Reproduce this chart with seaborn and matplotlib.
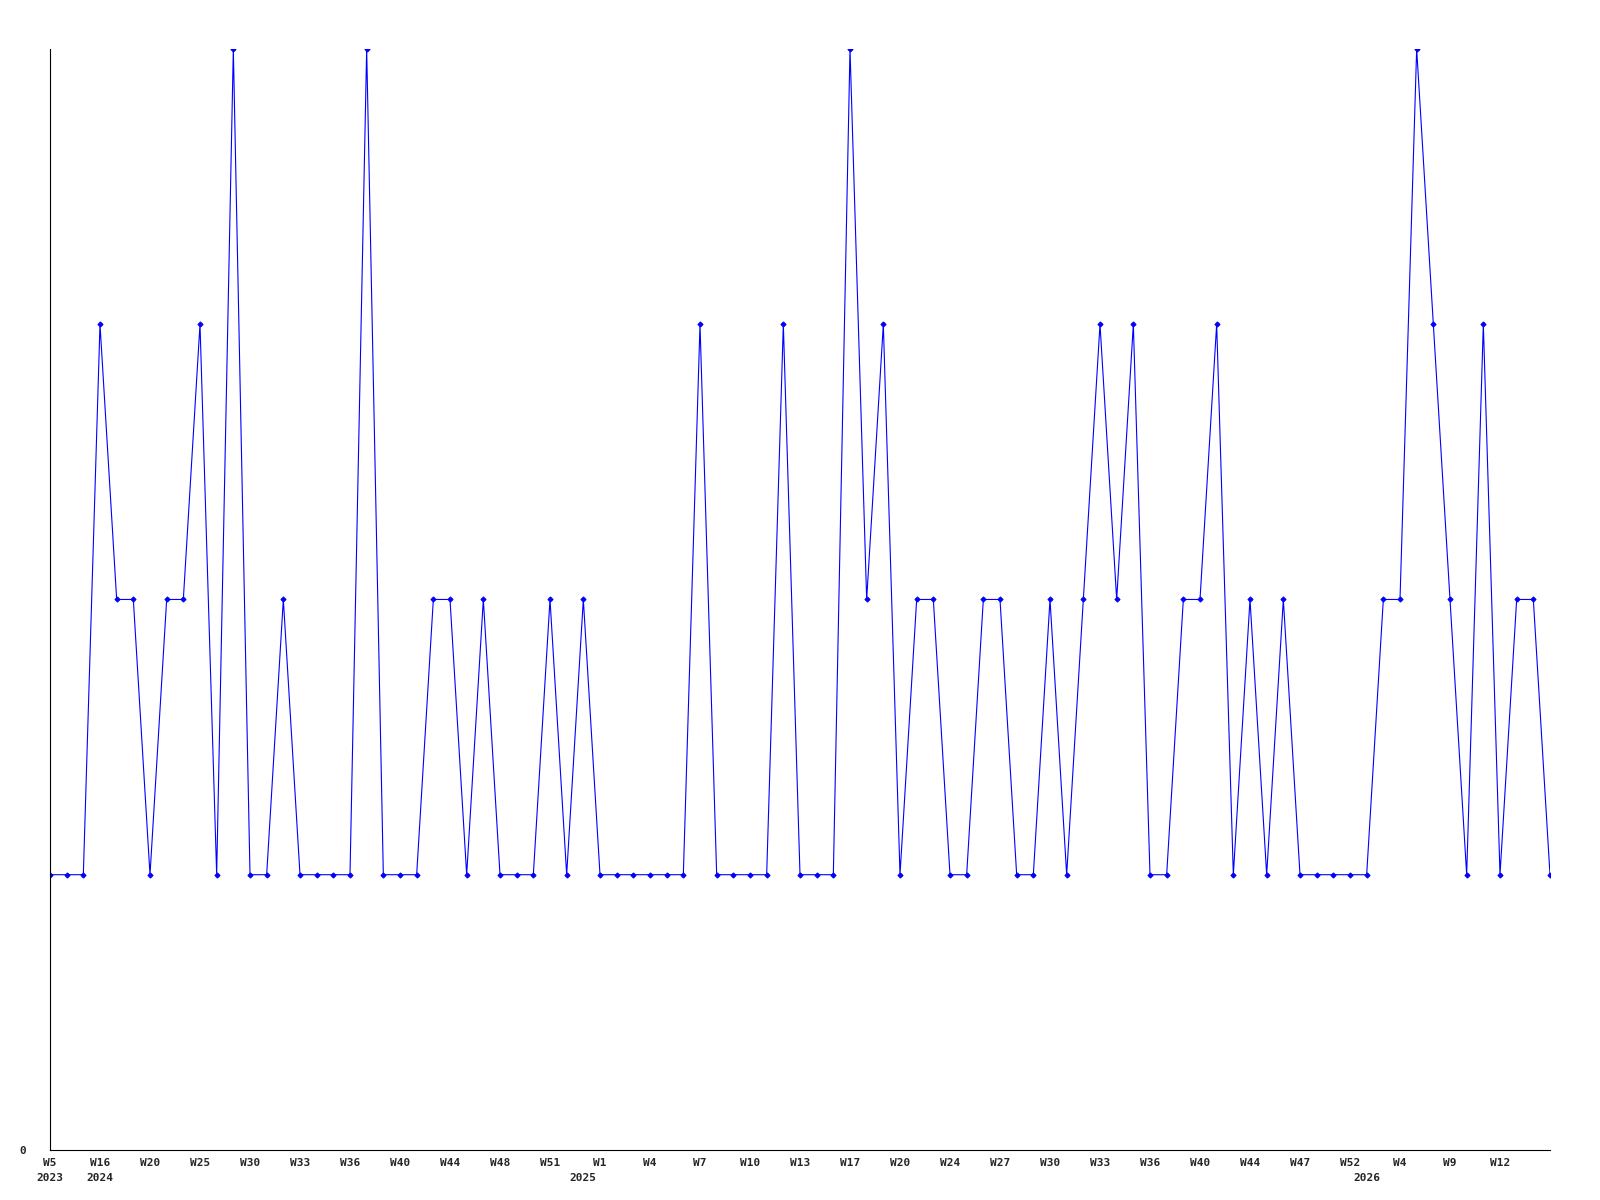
import matplotlib
matplotlib.use("Agg")

import numpy as np
import pandas as pd
import matplotlib.pyplot as plt
import matplotlib.transforms as mtransforms
import seaborn as sns

# weekly counts, one per point
values = [1, 1, 1, 3, 2, 2, 1, 2, 2, 3,
          1, 4, 1, 1, 2, 1, 1, 1, 1, 4,
          1, 1, 1, 2, 2, 1, 2, 1, 1, 1,
          2, 1, 2, 1, 1, 1, 1, 1, 1, 3,
          1, 1, 1, 1, 3, 1, 1, 1, 4, 2,
          3, 1, 2, 2, 1, 1, 2, 2, 1, 1,
          2, 1, 2, 3, 2, 3, 1, 1, 2, 2,
          3, 1, 2, 1, 2, 1, 1, 1, 1, 1,
          2, 2, 4, 3, 2, 1, 3, 1, 2, 2,
          1]

# every third point carries a week label
week_labels = ["W5", "W16", "W20", "W25", "W30", "W33", "W36", "W40", "W44", "W48",
               "W51", "W1", "W4", "W7", "W10", "W13", "W17", "W20", "W24", "W27",
               "W30", "W33", "W36", "W40", "W44", "W47", "W52", "W4", "W9", "W12"]
label_step = 3

years = ["2023", "2024", "2025", "2026"]
year_points = [0, 3, 32, 79]

df = pd.DataFrame({"idx": np.arange(len(values)), "count": values})

sns.set_style("white")
plt.rcParams["font.family"] = ["DejaVu Sans Mono"]

fig = plt.figure(figsize=(16, 12), dpi=100)
ax = fig.add_axes([0.03125, 0.0417, 0.9375, 0.9175])

sns.lineplot(data=df, x="idx", y="count", ax=ax, color="#0000ff",
             linewidth=0.8, marker="D", markersize=2.6,
             markeredgecolor="#0000ff", markerfacecolor="#0000ff")

ax.set_xlim(0, len(values) - 1)
ax.set_ylim(0, 4)

tick_pos = np.arange(0, len(values), label_step)[:len(week_labels)]
ax.set_xticks(tick_pos)
ax.set_xticklabels(week_labels, fontsize=8, fontweight="bold")
ax.set_yticks([0])
ax.set_yticklabels(["0"], fontsize=8, fontweight="bold")
ax.tick_params(axis="x", length=0, pad=6)
ax.tick_params(axis="y", length=0, pad=17)
for lbl in ax.get_xticklabels():
    lbl.set_x(lbl.get_position()[0])

trans = mtransforms.blended_transform_factory(ax.transData, ax.transAxes)
for yr, p in zip(years, year_points):
    ax.text(p, -0.021, yr, transform=trans, ha="center", va="top",
            fontsize=8, fontweight="bold")

for s in ["top", "right"]:
    ax.spines[s].set_visible(False)
for s in ["left", "bottom"]:
    ax.spines[s].set_color("black")
    ax.spines[s].set_linewidth(0.8)

ax.set_xlabel("")
ax.set_ylabel("")

fig.savefig("out.png", dpi=100)
plt.close(fig)
